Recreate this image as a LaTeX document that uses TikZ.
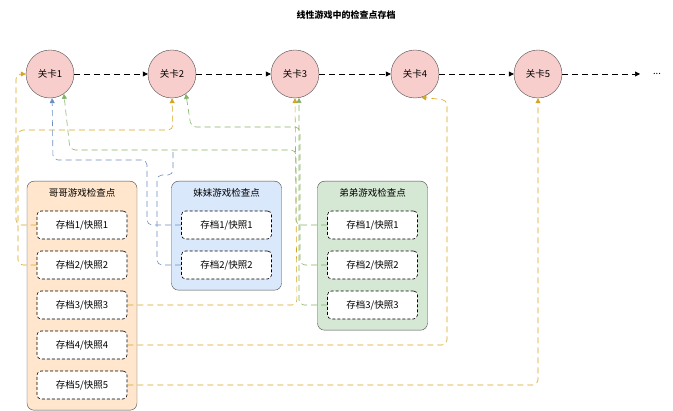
\documentclass[tikz,border=0pt]{standalone}
\usepackage{fontspec}
\setmainfont{Noto Sans CJK SC}
\usetikzlibrary{arrows.meta}
\definecolor{gold}{HTML}{D6A520}
\definecolor{blueln}{HTML}{6C8EBF}
\definecolor{greenln}{HTML}{82B366}
\definecolor{redfill}{HTML}{F8CECC}
\definecolor{orfill}{HTML}{FFE6CC}
\definecolor{blfill}{HTML}{DAE8FC}
\definecolor{grfill}{HTML}{D5E8D4}
\tikzset{
  level/.style={circle, draw=black!70, fill=redfill, minimum size=48pt, inner sep=0pt},
  group/.style={draw=black!70, rounded corners=7pt, minimum width=110pt, anchor=north},
  save/.style={draw=black, dash pattern=on 3pt off 2pt, line width=0.6pt, rounded corners=4pt, fill=white, minimum width=90pt, minimum height=28pt},
  link/.style={dashed, dash pattern=on 6pt off 4pt, rounded corners=5pt, -{Triangle[width=5pt,length=5pt]}, line width=0.6pt},
}
\begin{document}
\begin{tikzpicture}[x=1pt, y=-1pt, font=\fontsize{9.5}{11}\selectfont]
\useasboundingbox (0,0) rectangle (673,411);
\node[font=\fontsize{9}{10}\selectfont\bfseries] (title) at (346,15) {线性游戏中的检查点存档};
% levels
\foreach \i/\x in {1/50,2/172,3/295,4/415,5/538} {
  \node[level] (lv\i) at (\x,74) {关卡\i};
}
\coordinate (more) at (640,74);
\node (dots) at (657,74) {...};
\foreach \a/\b in {lv1/lv2,lv2/lv3,lv3/lv4,lv4/lv5,lv5/more}
  \draw[dashed, dash pattern=on 6pt off 4pt, line width=0.6pt, -{Triangle[width=5pt,length=5pt]}] (\a) -- (\b);
% groups
\node[group, fill=orfill, minimum height=229pt] (gege) at (82,181) {};
\node[group, fill=blfill, minimum height=109pt] (meimei) at (226.5,181) {};
\node[group, fill=grfill, minimum height=149pt] (didi) at (372.5,181) {};
\node (gegeT) at (82,193) {哥哥游戏检查点};
\node (meimeiT) at (226.5,193) {妹妹游戏检查点};
\node (didiT) at (372.5,193) {弟弟游戏检查点};
\foreach \i/\y in {1/225,2/265,3/305,4/345,5/385}
  \node[save] (g\i) at (82,\y) {存档\i/快照\i};
\foreach \i/\y in {1/225,2/265}
  \node[save] (m\i) at (226.5,\y) {存档\i/快照\i};
\foreach \i/\y in {1/225,2/265,3/305}
  \node[save] (d\i) at (372.5,\y) {存档\i/快照\i};
% brother
\draw[link, gold] (g1.west) -- (16,225) -- (16,74) -- (lv1.west);
\draw[link, gold] (g2.west) -- (18,265) -- (18,130) -- (173,130) -- (lv2.south);
\draw[link, gold] (g3.east) -- (297,305) -- (lv3.south);
\draw[link, gold] (g4.east) -- (447,345) -- (447,100) -- (lv4.-75);
\draw[link, gold] (g5.east) -- (538,385) -- (lv5.south);
% sister
\draw[link, blueln] (m1.west) -- (147,225) -- (147,160) -- (53,160) -- (lv1.-85);
\draw[link, blueln, -] (m2.west) -- (157,265) -- (157,175) -- (173,175) -- (173,150);
% younger brother
\draw[link, greenln] (d1.west) -- (296,225) -- (296,150) -- (70,150) -- (lv1.-55);
\draw[link, greenln] (d2.west) -- (300,265) -- (300,127) -- (191,127) -- (lv2.-55);
\draw[link, greenln] (d3.west) -- (299,305) -- (299,98);
\end{tikzpicture}
\end{document}
